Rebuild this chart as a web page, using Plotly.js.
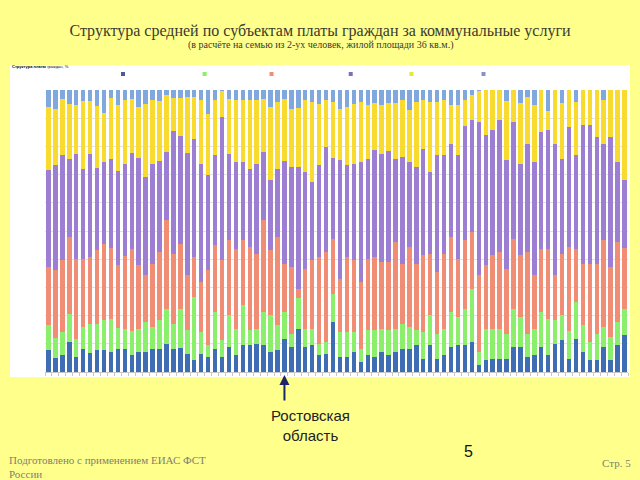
<!DOCTYPE html>
<html>
<head>
<meta charset="utf-8">
<script src="https://cdn.plot.ly/plotly-3.0.1.min.js"></script>
<style>html,body{margin:0;padding:0;background:#FFFF8C;}#chart{width:640px;height:480px;}</style>
</head>
<body>
<div id="chart"></div>
<script>
// Regions (subjects of the Russian Federation), numbered in chart order
const regions = [1,2,3,4,5,6,7,8,9,10,11,12,13,14,15,16,17,18,19,20,21,22,23,24,25,26,27,28,29,30,31,32,33,34,35,36,37,38,39,40,41,42,43,44,45,46,47,48,49,50,51,52,53,54,55,56,57,58,59,60,61,62,63,64,65,66,67,68,69,70,71,72,73,74,75,76,77,78,79,80,81,82,83,84];

const seriesNames = ["Холодное водоснабжение", "Водоотведение", "Горячее водоснабжение", "Отопление", "Электроснабжение", "Газоснабжение"];
const seriesColors = ["#3F6DB3", "#8CEF6C", "#F28D75", "#9C7FD2", "#F9DA2E", "#80A8DE"];
const legendColors = ["#4B5C9C", "#8CEF6C", "#F28D75", "#7A72B8", "#E8E830", "#8C90C8"];

// Shares, % (bottom to top)
const coldWater = [7.7,5.0,5.9,10.6,5.3,8.3,6.9,7.7,7.7,7.1, 8.3,8.0,6.1,7.1,7.1,8.3,8.3,10.0,8.3,8.5, 6.5,4.1,6.5,5.3,8.3,5.3,8.9,5.9,9.5,9.5, 10.0,9.5,7.1,7.7,11.8,8.9,15.4,8.9,9.5,5.9, 6.5,17.7,5.3,5.3,7.1,3.5,5.9,5.3,7.1,5.9, 7.1,8.3,8.3,9.5,4.7,9.5,4.7,5.9,8.9,9.5, 9.5,10.6,2.4,4.1,4.7,4.7,4.7,8.9,8.9,5.3, 5.9,8.9,5.9,10.0,11.2,4.7,11.8,7.1,4.1,4.1, 8.9,4.1,9.5,13.0];
const sewerage = [8.9,6.9,8.3,10.0,6.3,7.7,10.3,9.5,10.6,11.6, 7.3,7.3,8.6,8.3,10.6,7.7,10.0,12.4,8.9,13.9, 8.3,22.5,7.7,4.1,13.0,5.9,11.2,9.5,14.2,5.3, 5.3,11.8,13.0,8.9,9.5,4.7,10.9,6.5,5.9,4.1, 4.1,10.0,8.9,8.9,7.1,4.7,8.9,9.5,8.3,8.9, 8.3,8.9,7.7,5.3,9.5,10.6,8.9,9.5,12.4,10.0, 13.0,18.9,4.7,11.2,10.6,10.6,8.9,13.6,10.6,8.3, 9.5,12.4,13.0,8.3,8.9,10.0,13.0,9.5,6.5,9.5, 7.1,8.3,8.3,9.5];
const hotWater = [20.7,24.2,25.4,27.2,28.6,24.2,23.6,26.0,27.2,25.1, 22.5,26.0,29.0,22.5,16.8,22.5,24.2,31.3,24.8,23.0, 19.5,14.2,17.7,26.6,23.6,28.4,26.6,28.4,23.0,29.6, 26.6,32.5,23.0,31.3,17.1,23.6,3.0,21.3,24.2,30.7, 31.9,19.5,18.9,26.6,25.4,23.6,25.4,26.0,23.6,24.2, 30.7,21.3,28.4,23.6,27.2,21.9,21.9,26.6,26.6,20.7, 24.2,20.1,27.2,22.5,26.0,27.2,23.0,24.8,21.9,29.0, 18.9,22.5,24.8,16.0,21.9,29.6,18.9,21.9,27.8,24.8, 30.7,24.8,28.4,21.3];
const heating = [34.3,37.2,37.2,27.8,37.2,31.9,36.6,29.2,29.0,31.9, 33.1,32.5,34.0,38.1,34.6,35.5,32.2,24.2,43.4,38.2, 43.4,42.0,42.0,33.7,31.9,50.8,30.7,30.7,27.8,27.5, 31.9,24.2,24.8,24.2,36.6,35.5,43.4,34.3,27.8,32.5, 37.2,28.6,42.0,32.5,34.3,42.6,35.5,37.8,38.4,39.2, 29.6,37.8,30.1,34.3,37.8,29.0,41.4,34.9,33.1,36.6, 40.8,39.6,54.4,46.1,44.3,46.7,38.4,41.4,32.5,38.4, 40.2,41.4,42.0,46.7,33.7,42.6,33.1,49.1,49.1,44.9, 34.3,46.1,28.4,24.2];
const electricity = [22.5,20.1,20.1,19.5,17.1,23.9,18.6,22.0,17.5,21.5, 23.4,22.5,18.9,18.1,26.0,22.5,21.3,20.3,11.8,13.5, 19.9,14.8,22.5,21.9,19.5,9.1,19.5,21.9,21.9,24.5, 22.5,18.9,26.0,23.6,21.9,20.7,20.9,25.4,28.4,21.9, 16.5,19.9,18.3,20.7,21.3,21.3,19.1,16.9,17.1,17.3, 19.9,20.1,18.3,23.0,17.1,24.8,18.9,19.5,13.6,18.0, 8.9,8.9,10.9,16.0,14.2,10.6,20.9,11.3,21.6,16.5, 20.1,14.9,6.7,19.0,19.9,13.1,18.9,12.5,12.5,16.7, 15.4,16.7,25.5,32.0];
const gas = [6.0,6.6,3.1,4.8,5.4,4.0,4.0,5.7,8.0,2.8, 5.4,3.7,3.3,6.0,4.8,3.7,4.0,1.7,2.8,2.8, 2.5,2.5,3.7,8.4,3.7,0.5,3.1,3.7,3.7,3.7, 3.7,3.1,6.0,4.3,3.1,6.6,6.4,3.7,4.3,4.8, 3.7,4.3,6.6,6.0,4.8,4.3,5.2,4.5,5.4,4.5, 4.5,3.7,7.2,4.3,3.7,4.3,4.3,3.7,5.4,5.2, 3.7,1.9,0.5,0,0,0,4.0,0,4.5,2.5, 5.4,0,7.6,0,4.5,0,4.3,0,0,0, 3.7,0,0,0];

const markedRegion = 35; // Ростовская область

const allSeries = [coldWater, sewerage, hotWater, heating, electricity, gas];

const traces = allSeries.map((vals, i) => ({
  type: 'bar',
  x: regions,
  y: vals,
  name: seriesNames[i],
  marker: {color: seriesColors[i], line: {width: 0}},
  showlegend: false,
  hoverinfo: 'skip'
}));

// legend entries drawn as small square markers
seriesNames.forEach((n, i) => {
  traces.push({
    type: 'scatter', mode: 'markers', x: [null], y: [null], name: n,
    marker: {symbol: 'square', size: 4, color: legendColors[i]},
    showlegend: true, hoverinfo: 'skip'
  });
});

const L = 45, R = 12, T = 90, B = 108;
const W = 640 - L - R, H = 480 - T - B;
const px = v => (v - L) / W;
const py = v => (480 - B - v) / H;

const layout = {
  width: 640, height: 480,
  margin: {l: L, r: R, t: T, b: B, pad: 0},
  paper_bgcolor: '#FFFF8C',
  plot_bgcolor: '#FBF6FF',
  barmode: 'stack',
  barnorm: 'percent',
  bargap: 0.36,
  showlegend: true,
  legend: {
    orientation: 'h', x: px(103), xanchor: 'left', y: py(74), yanchor: 'middle',
    font: {family: 'Liberation Sans', size: 3, color: '#ffffff'},
    bgcolor: 'rgba(0,0,0,0)', itemwidth: 30, traceorder: 'normal', borderwidth: 0
  },
  title: {
    text: 'Структура средней по субъектам платы граждан за коммунальные услуги',
    font: {family: 'Liberation Serif', size: 16, color: '#3A3A30'},
    x: 0.5, xref: 'container', xanchor: 'center',
    y: 1 - 30/480, yref: 'container', yanchor: 'middle'
  },
  xaxis: {
    range: [0.5, regions.length + 0.5],
    showticklabels: false, showgrid: false, zeroline: false,
    showline: true, linecolor: '#C8C8C8', linewidth: 1,
    ticks: 'outside', ticklen: 3, tickcolor: '#C8C8C8', tick0: 0.5, dtick: 1
  },
  yaxis: {
    range: [0, 100], showticklabels: false, zeroline: false,
    showgrid: true, gridcolor: '#E2E2E2', gridwidth: 1, dtick: 10, ticks: ''
  },
  shapes: [{
    type: 'rect', xref: 'paper', yref: 'paper', layer: 'below',
    x0: px(10), x1: px(630), y0: py(377), y1: py(65),
    fillcolor: '#FFFFFF', line: {width: 0}
  }],
  annotations: [
    {text: '(в расчёте на семью из 2-ух человек, жилой площади 36 кв.м.)',
     xref: 'paper', yref: 'paper', x: px(320), y: py(45), xanchor: 'center', yanchor: 'middle',
     showarrow: false, font: {family: 'Liberation Serif', size: 10, color: '#3A3A30'}},
    {text: '<b>Структура платы</b> граждан, %',
     xref: 'paper', yref: 'paper', x: px(10), y: py(66), xanchor: 'left', yanchor: 'middle',
     showarrow: false, font: {family: 'Liberation Sans', size: 4, color: '#000000'}},
    {text: '', xref: 'x', yref: 'paper', x: markedRegion, y: py(375),
     showarrow: true, ax: 0, ay: 27, arrowhead: 2, arrowsize: 1, arrowwidth: 2, arrowcolor: '#1E2468'},
    {text: 'Ростовская<br>область', xref: 'paper', yref: 'paper', x: px(310), y: py(425),
     xanchor: 'center', yanchor: 'middle', showarrow: false,
     font: {family: 'Liberation Sans', size: 15, color: '#222222'}},
    {text: '5', xref: 'paper', yref: 'paper', x: px(468), y: py(451),
     xanchor: 'center', yanchor: 'middle', showarrow: false,
     font: {family: 'Liberation Sans', size: 16, color: '#111111'}},
    {text: 'Подготовлено с применением ЕИАС ФСТ<br>России', xref: 'paper', yref: 'paper',
     x: px(7), y: py(467), xanchor: 'left', yanchor: 'middle', align: 'left', showarrow: false,
     font: {family: 'Liberation Serif', size: 11, color: '#808070'}},
    {text: 'Стр. 5', xref: 'paper', yref: 'paper', x: px(633), y: py(463),
     xanchor: 'right', yanchor: 'middle', showarrow: false,
     font: {family: 'Liberation Serif', size: 11, color: '#808070'}}
  ]
};

Plotly.newPlot('chart', traces, layout, {staticPlot: true, displayModeBar: false});
</script>
</body>
</html>
